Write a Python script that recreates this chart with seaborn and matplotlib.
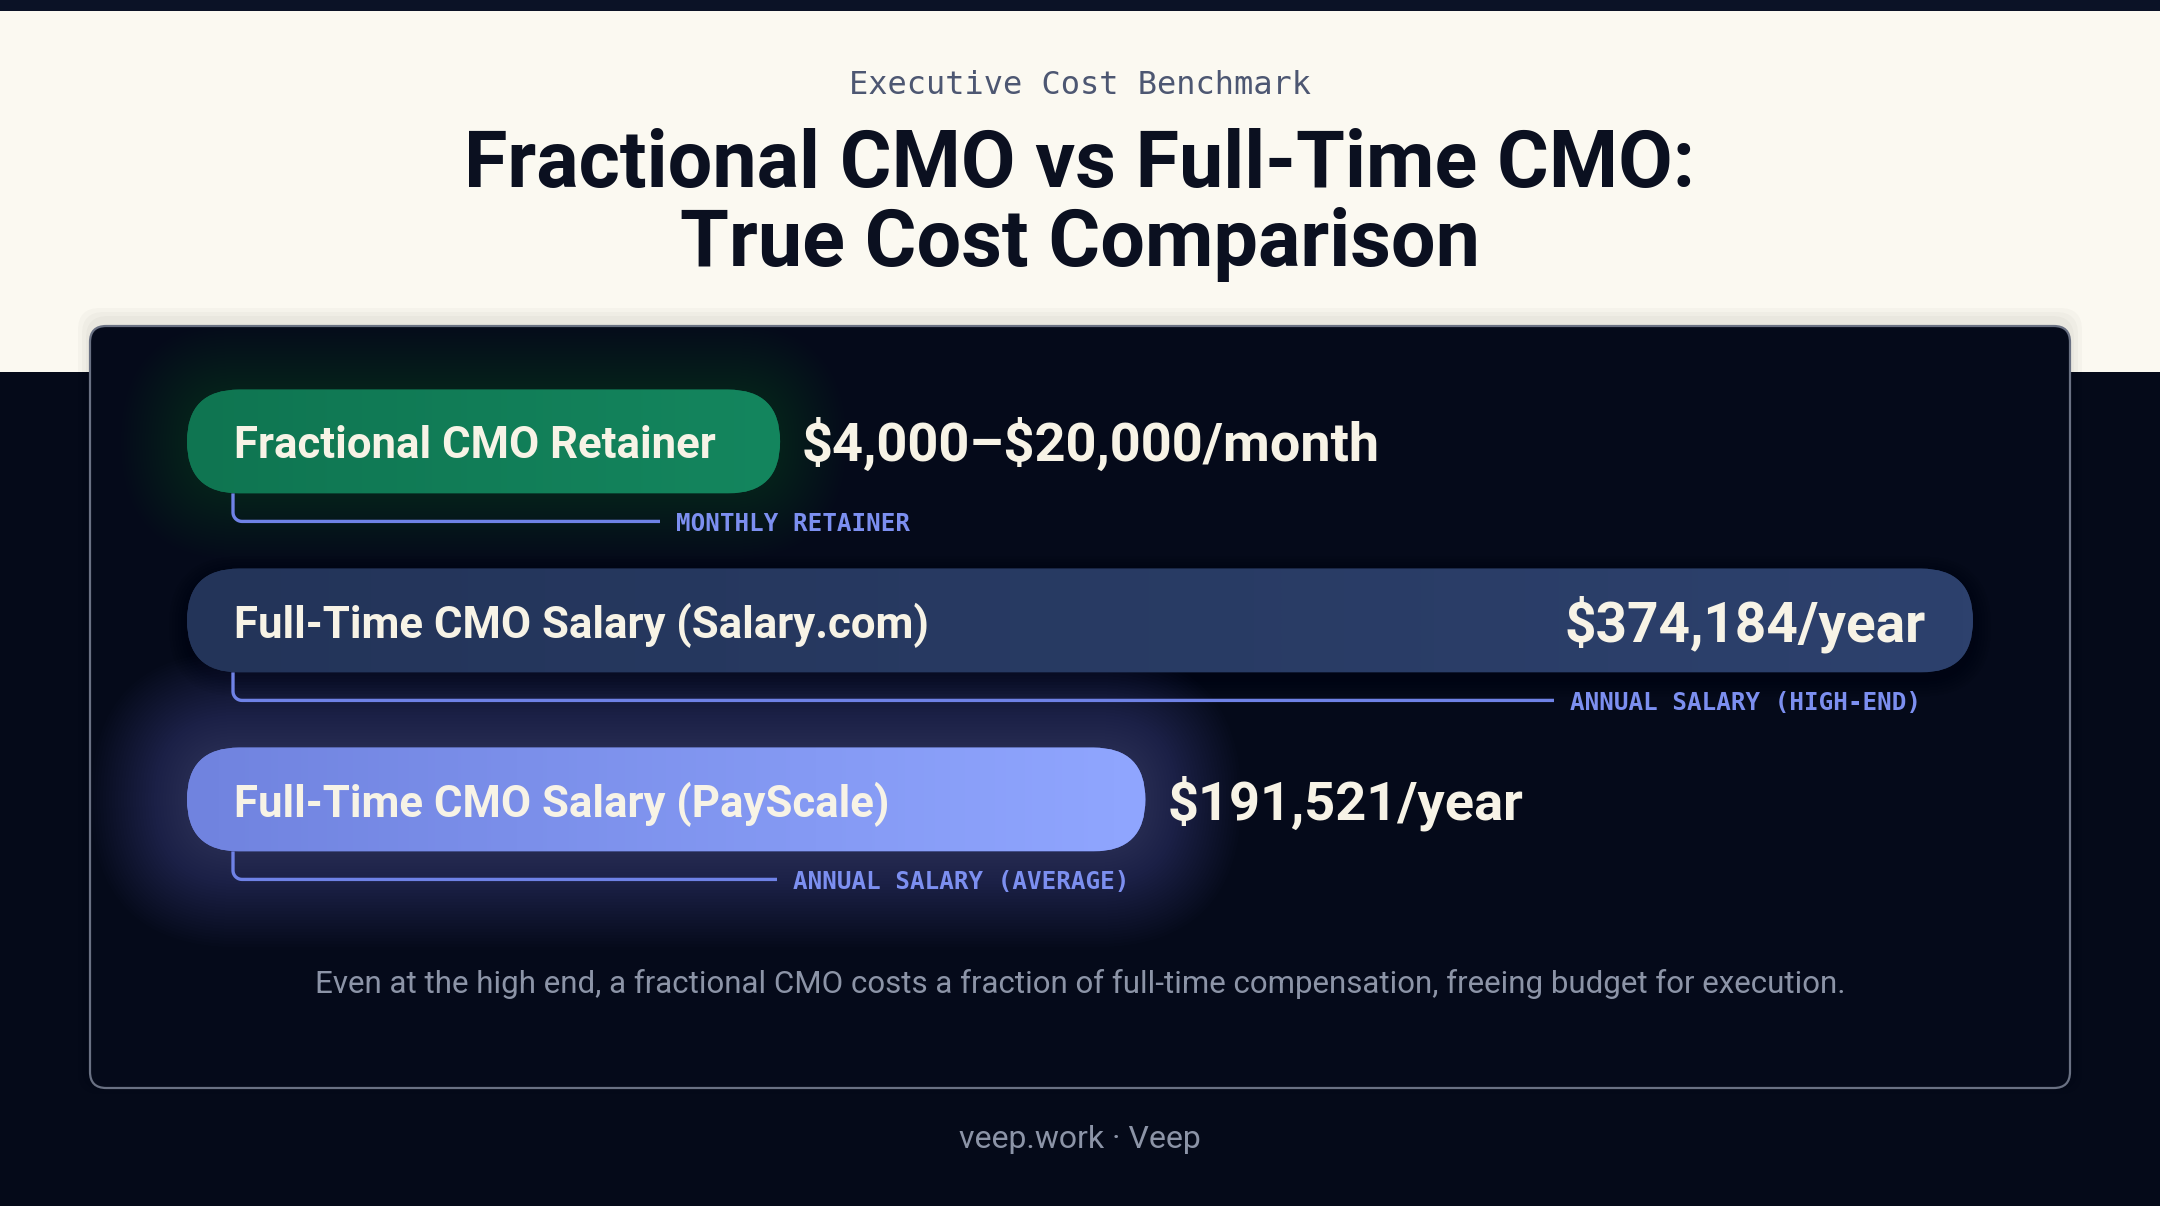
import matplotlib.pyplot as plt
import numpy as np
import seaborn as sns
from matplotlib.colors import LinearSegmentedColormap
from matplotlib.patches import FancyBboxPatch, Rectangle

W, H, DPI = 2160, 1206, 100

categories = [
    "Fractional CMO Retainer",
    "Full-Time CMO Salary (Salary.com)",
    "Full-Time CMO Salary (PayScale)",
]
# drawn bar extent on an annual-dollar scale (retainer pill length)
bar_lengths = [110_900, 374_184, 191_521]
value_labels = ["$4,000–$20,000/month", "$374,184/year", "$191,521/year"]
tag_labels = ["MONTHLY RETAINER", "ANNUAL SALARY (HIGH-END)", "ANNUAL SALARY (AVERAGE)"]

eyebrow = "Executive Cost Benchmark"
title = "Fractional CMO vs Full-Time CMO:\nTrue Cost Comparison"
caption = ("Even at the high end, a fractional CMO costs a fraction of full-time "
           "compensation, freeing budget for execution.")
footer = "veep.work · Veep"

# style
CREAM = "#fbf9f1"
NAVY = "#050a19"
TEXT_LIGHT = "#f7f3e6"
TAG_BLUE = "#7c8ff0"
GREY = "#8c94a7"
bar_cmaps = [
    ("#0f7551", "#14865e"),
    ("#233459", "#2d416d"),
    ("#7083df", "#90a6ff"),
]
glow_colors = ["#10b981", None, "#7c8ff0"]
glow_strength = [0.006, 0, 0.011]
glow_reach = [66, 0, 96]

# layout in pixels (from top-left)
AX_L, AX_R, AX_T, AX_B = 187, 1973, 352, 889
PAD = 20_000
XMAX = max(bar_lengths)
tag_left_px = [676, 1570, 793]
INSET = 47
RADIUS = 52

sns.set_theme(style="white")
plt.rcParams["font.family"] = ["Roboto", "DejaVu Sans"]

fig = plt.figure(figsize=(W / DPI, H / DPI), dpi=DPI, facecolor=NAVY)


def fx(px):
    return px / W


def fy(py):
    return 1 - py / H


# background bands
fig.patches.append(Rectangle((0, fy(372)), 1, fy(11) - fy(372), transform=fig.transFigure,
                             facecolor=CREAM, edgecolor="none", zorder=0))
fig.patches.append(Rectangle((0, fy(11)), 1, 1 - fy(11), transform=fig.transFigure,
                             facecolor="#0b1226", edgecolor="none", zorder=0))

# panel soft shadow + panel
for e in (12, 8, 4):
    fig.patches.append(FancyBboxPatch(
        (fx(90 - e), fy(1088 + e - 6)), fx(1980 + 2 * e), (762 + 2 * e) / H,
        boxstyle="round,pad=0,rounding_size=0.01", mutation_aspect=W / H,
        transform=fig.transFigure, facecolor="#000000", edgecolor="none",
        alpha=0.025, zorder=1))
fig.patches.append(FancyBboxPatch(
    (fx(90), fy(1088)), fx(1980), 762 / H,
    boxstyle="round,pad=0,rounding_size=0.0075", mutation_aspect=W / H,
    transform=fig.transFigure, facecolor="#050a1a", edgecolor="#6a7183",
    linewidth=1.6, zorder=2))

ax = fig.add_axes([fx(AX_L), fy(AX_B), fx(AX_R - AX_L), fy(AX_T) - fy(AX_B)])
ax.set_zorder(5)
sns.barplot(x=bar_lengths, y=categories, orient="h", width=0.58, color="#333333", ax=ax)
ax.set_xlim(-PAD, XMAX)
ax.set_ylim(len(categories) - 0.5, -0.5)
ax.set_axis_off()
ax.patch.set_alpha(0)

px_x = (AX_R - AX_L) / (XMAX + PAD)
px_y = (AX_B - AX_T) / len(categories)
m_aspect = px_x / px_y


def xd(px):
    return -PAD + (px - AX_L) / px_x


def rounded(x0, y0, w, h, r_px, **kw):
    return FancyBboxPatch((x0, y0), w, h, boxstyle=f"round,pad=0,rounding_size={r_px / px_x}",
                          mutation_aspect=m_aspect, **kw)


bars = list(ax.patches)
for i, bar in enumerate(bars):
    bar.set_visible(False)
    x1 = bar.get_x() + bar.get_width()
    y0, h = bar.get_y(), bar.get_height()
    x0 = -PAD
    w = x1 - x0

    # glow
    gc = glow_colors[i]
    if gc is not None:
        for e in range(glow_reach[i], 0, -3):
            dx, dy = e / px_x, e / px_y
            ax.add_patch(rounded(x0 - dx, y0 - dy, w + 2 * dx, h + 2 * dy, RADIUS + e,
                                 facecolor=gc, edgecolor="none", alpha=glow_strength[i],
                                 zorder=1, clip_on=False))
    else:
        for e in range(18, 0, -3):
            dx, dy = e / px_x, e / px_y
            ax.add_patch(rounded(x0 - dx, y0 - dy + 6 / px_y, w + 2 * dx, h + 2 * dy, RADIUS + e,
                                 facecolor="#000000", edgecolor="none", alpha=0.04,
                                 zorder=1, clip_on=False))

    # pill with horizontal gradient
    pill = rounded(x0, y0, w, h, RADIUS, facecolor=bar_cmaps[i][0], edgecolor="none", zorder=2)
    ax.add_patch(pill)
    cmap = LinearSegmentedColormap.from_list(f"g{i}", bar_cmaps[i])
    im = ax.imshow(np.linspace(0, 1, 256).reshape(1, -1), cmap=cmap, aspect="auto",
                   extent=[x0, x1, y0 + h, y0], zorder=3, interpolation="bicubic")
    im.set_clip_path(pill)

    yc = y0 + h / 2
    ax.text(xd(AX_L + INSET), yc, categories[i], color=TEXT_LIGHT, fontsize=31.5,
            fontweight="bold", ha="left", va="center_baseline", zorder=5)

    vy = yc - 2 / px_y
    if bar_lengths[i] == XMAX:
        ax.text(x1 - INSET / px_x, vy, value_labels[i], color=TEXT_LIGHT, fontsize=39.5,
                fontweight="bold", ha="right", va="center_baseline", zorder=5,
                parse_math=False)
    else:
        ax.text(x1 + 22 / px_x, vy, value_labels[i], color=TEXT_LIGHT, fontsize=39,
                fontweight="bold", ha="left", va="center_baseline", zorder=5, clip_on=False,
                parse_math=False)

    # bracket connector
    bx = xd(AX_L + 46)
    by0 = y0 + h
    by1 = by0 + 28 / px_y
    r = 9
    ex = xd(tag_left_px[i] - 16)
    t = np.linspace(np.pi, 1.5 * np.pi, 12)
    arc_x = bx + r / px_x + (r / px_x) * np.cos(t)
    arc_y = by1 - r / px_y - (r / px_y) * np.sin(t)
    xs = np.concatenate([[bx], arc_x, [ex]])
    ys = np.concatenate([[by0], arc_y, [by1]])
    ax.plot(xs, ys, color="#6f82e6", linewidth=2.4, solid_capstyle="butt", zorder=4,
            clip_on=False)
    ax.text(xd(tag_left_px[i]), by1 + 3 / px_y, tag_labels[i], color=TAG_BLUE, fontsize=17.5,
            fontweight="bold", family=["DejaVu Sans Mono"], ha="left", va="center",
            zorder=5, clip_on=False)

ax.set_xlim(-PAD, XMAX)
ax.set_ylim(len(categories) - 0.5, -0.5)

# header texts
fig.text(0.5, fy(86), eyebrow, ha="center", va="center", fontsize=23,
         family=["DejaVu Sans Mono"], color="#4d5772")
fig.text(0.5, fy(205), title, ha="center", va="center", fontsize=57, fontweight="bold",
         color="#0b1020", linespacing=1.08)

fig.text(0.5, fy(984), caption, ha="center", va="center", fontsize=22.5, color=GREY)
fig.text(0.5, fy(1139), footer, ha="center", va="center", fontsize=23, color=GREY)

fig.savefig("out.png", dpi=DPI, facecolor=NAVY)
